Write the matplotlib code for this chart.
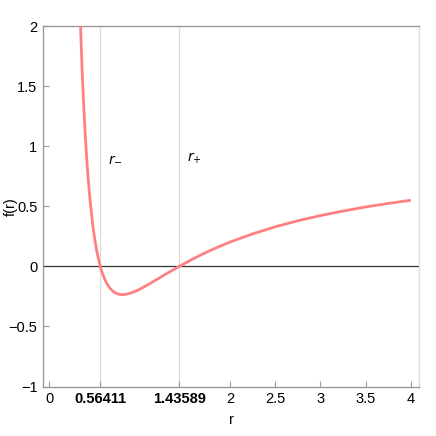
import matplotlib
matplotlib.use("Agg")
import matplotlib.pyplot as plt

# f(r)
r_vals = [0.34, 0.35, 0.36, 0.37, 0.38, 0.40, 0.42, 0.43, 0.45, 0.48, 0.50, 0.52, 0.54,
          0.56411, 0.58, 0.60, 0.625, 0.65, 0.675, 0.70, 0.725, 0.75, 0.78, 0.81, 0.85,
          0.90, 0.95, 1.0, 1.1, 1.2, 1.3, 1.43589, 1.6, 1.7, 1.8, 1.9, 2.0, 2.25, 2.5,
          2.75, 3.0, 3.25, 3.5, 3.75, 4.0]
f_vals = [2.125, 1.898, 1.694, 1.511, 1.346, 1.0625, 0.830, 0.730, 0.556, 0.349, 0.240, 0.149, 0.074,
          0.0, -0.040, -0.083, -0.126, -0.160, -0.185, -0.204, -0.218, -0.227, -0.233, -0.235, -0.232,
          -0.222, -0.208, -0.190, -0.149, -0.104, -0.059, 0.0, 0.066, 0.104, 0.139, 0.172, 0.2025, 0.271, 0.330,
          0.380, 0.423, 0.461, 0.495, 0.524, 0.551]

horizons = [0.56411, 1.43589]
horizon_names = [r"$r_{-}$", r"$r_{+}$"]
x_ticks = [0, 0.56411, 1.43589, 2, 2.5, 3, 3.5, 4]
x_labels = ["0", "0.56411", "1.43589", "2", "2.5", "3", "3.5", "4"]
y_ticks = [-1, -0.5, 0, 0.5, 1, 1.5, 2]
y_labels = ["\u22121", "\u22120.5", "0", "0.5", "1", "1.5", "2"]

plt.rcParams['font.family'] = ['Liberation Sans Narrow', 'Liberation Sans', 'DejaVu Sans']

fig = plt.figure(figsize=(4.36, 4.36), dpi=100)
ax = fig.add_axes([0.0986, 0.1135, 0.8624, 0.8265])

for h in horizons:
    ax.axvline(h, color="#dddddd", lw=0.9, zorder=1)
ax.axhline(0, color="#333333", lw=0.9, zorder=2)
ax.plot(r_vals, f_vals, color="#ff8080", lw=2, zorder=3, solid_capstyle="butt")

for h, name in zip(horizons, horizon_names):
    ax.text(h + 0.09, 0.9, name, fontsize=10, ha="left", va="center")

ax.set_xlim(-0.07, 4.09)
ax.set_ylim(-1, 2)
ax.set_xticks(x_ticks)
ax.set_xticklabels(x_labels, fontsize=10.5)
for lbl in ax.get_xticklabels()[1:3]:
    lbl.set_fontweight("bold")
ax.set_yticks(y_ticks)
ax.set_yticklabels(y_labels, fontsize=10.5)
ax.tick_params(direction="in", length=4, color="#999999", width=0.8, pad=4)

ax.spines["left"].set_color("#999999")
ax.spines["bottom"].set_color("#999999")
ax.spines["top"].set_color("#999999")
ax.spines["right"].set_color("#dddddd")
for s in ax.spines.values():
    s.set_linewidth(1)

ax.set_xlabel("r", fontsize=10.5, labelpad=5)
ax.set_ylabel("f(r)", fontsize=10.5)
ax.yaxis.set_label_coords(-0.068, 0.5)

fig.savefig("out.png", dpi=100)
